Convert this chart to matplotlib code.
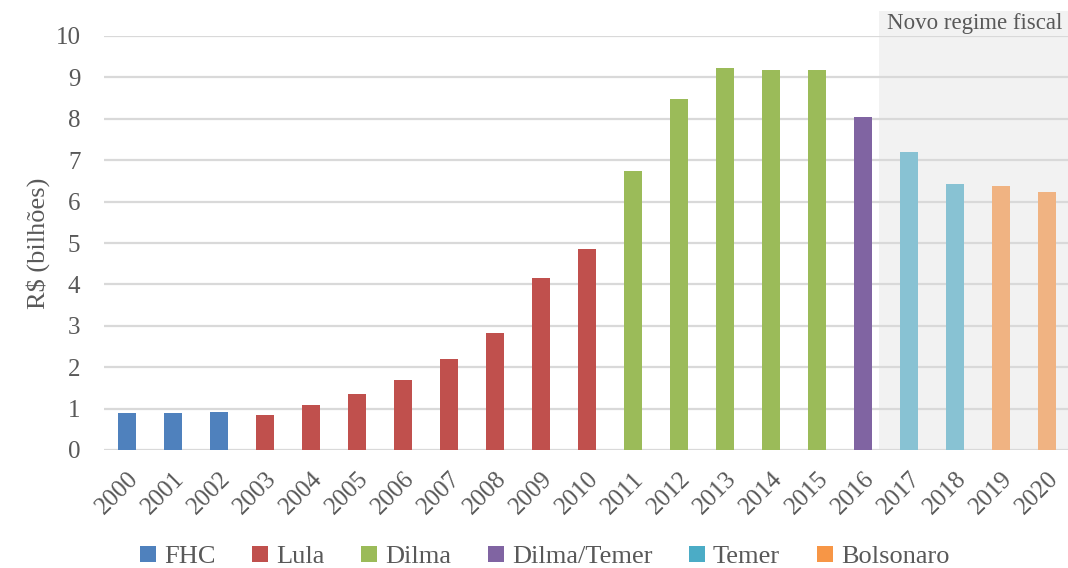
import matplotlib
matplotlib.use("Agg")
from matplotlib import pyplot as plt
from matplotlib.patches import Rectangle, Patch

# data
years = [str(y) for y in range(2000, 2021)]
values = [0.89, 0.89, 0.92, 0.85, 1.08, 1.36, 1.69, 2.21, 2.83, 4.15, 4.86,
          6.74, 8.49, 9.22, 9.19, 9.19, 8.05, 7.19, 6.43, 6.37, 6.22]
governo = ["FHC"] * 3 + ["Lula"] * 8 + ["Dilma"] * 5 + ["Dilma/Temer"] + ["Temer"] * 2 + ["Bolsonaro"] * 2

governos = ["FHC", "Lula", "Dilma", "Dilma/Temer", "Temer", "Bolsonaro"]
legend_colors = {"FHC": "#4F81BD", "Lula": "#C0504D", "Dilma": "#9BBB59",
                 "Dilma/Temer": "#8064A2", "Temer": "#4BACC6", "Bolsonaro": "#F79646"}
bar_colors = {"FHC": "#4F81BD", "Lula": "#C0504D", "Dilma": "#9BBB59",
              "Dilma/Temer": "#8064A2", "Temer": "#88C2D3", "Bolsonaro": "#F0B382"}

plt.rcParams["font.family"] = ["Liberation Serif", "DejaVu Serif"]

fig = plt.figure(figsize=(10.68, 5.68), dpi=100)
ax = fig.add_axes([104 / 1068, 1 - 450 / 568, 966 / 1068, 414 / 568])

x = list(range(len(years)))
ax.set_xlim(-0.5, 20.5)
ax.set_ylim(0, 10)

# shaded "novo regime fiscal" area, goes above the plot top
shade = Rectangle((16.35, 0), 4.3, 10.6, facecolor="#F2F2F2", edgecolor="none",
                  zorder=0, clip_on=False)
ax.add_patch(shade)
ax.text(16.52, 10.3, "Novo regime fiscal", fontsize=16.5, color="#595959",
        va="center", ha="left", zorder=3)

ax.set_yticks(range(0, 11))
ax.grid(axis="y", color="#D9D9D9", linewidth=1.6, zorder=1)
ax.set_axisbelow(True)

ax.bar(x, values, width=0.4, color=[bar_colors[g] for g in governo], zorder=2)

for s in ax.spines.values():
    s.set_visible(False)
ax.tick_params(length=0)
ax.set_xticks(x)
ax.set_xticklabels(years, rotation=45, ha="right", rotation_mode="anchor",
                   fontsize=18, color="#595959")
ax.tick_params(axis="x", pad=13)
ax.tick_params(axis="y", labelsize=18, colors="#595959", pad=17)
ax.set_ylabel("R$ (bilhões)", fontsize=19, color="#595959", labelpad=4)

handles = [Patch(facecolor=legend_colors[g], label=g) for g in governos]
fig.legend(handles=handles, loc="center", bbox_to_anchor=(0.51, 1 - 557 / 568),
           ncol=6, frameon=False, fontsize=19, handlelength=0.6, handleheight=0.6,
           handletextpad=0.3, columnspacing=1.4, labelcolor="#595959")

fig.savefig("out.png", dpi=100)
